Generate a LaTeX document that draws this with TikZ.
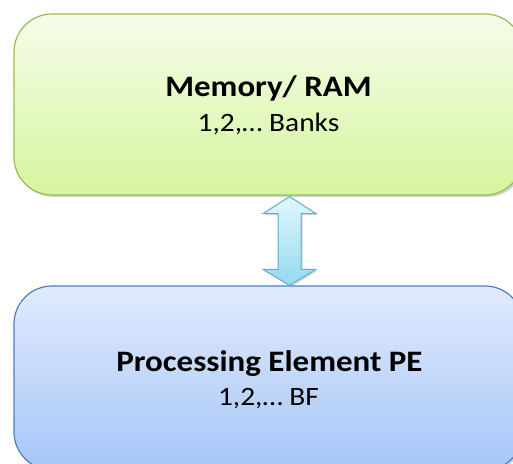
\documentclass[tikz,border=0pt]{standalone}
\usepackage{fontspec}
\setmainfont{Carlito}
\newfontfamily\widefont[FakeStretch=1.11]{Carlito}
\usetikzlibrary{shadows,calc}
\definecolor{memtop}{RGB}{245,253,234}
\definecolor{membot}{RGB}{214,245,158}
\definecolor{memline}{RGB}{155,187,89}
\definecolor{petop}{RGB}{224,234,252}
\definecolor{pebot}{RGB}{166,198,248}
\definecolor{peline}{RGB}{79,129,189}
\definecolor{artop}{RGB}{224,247,253}
\definecolor{arbot}{RGB}{148,218,240}
\definecolor{arline}{RGB}{96,176,206}
\tikzset{
  boxbase/.style={draw, line width=1.2pt, rounded corners=38pt, inner sep=0pt,
    minimum width=509pt, drop shadow={shadow xshift=2pt, shadow yshift=-2pt, opacity=0.35}},
  membox/.style={boxbase, draw=memline, top color=memtop, bottom color=membot, minimum height=181pt},
  pebox/.style={boxbase, draw=peline, top color=petop, bottom color=pebot, minimum height=184pt},
  titletext/.style={anchor=base, inner sep=0pt, font=\widefont\bfseries\fontsize{29.7}{34}\selectfont},
  subtext/.style={anchor=base, inner sep=0pt, font=\widefont\fontsize{26.5}{31}\selectfont},
  blockarrow/.style={draw=arline, line width=1pt, top color=artop, bottom color=arbot,
    drop shadow={shadow xshift=1.5pt, shadow yshift=-1.5pt, opacity=0.3}}
}
\begin{document}
\begin{tikzpicture}[x=1pt,y=1pt]
\useasboundingbox (0,0) rectangle (513,463);
\clip (0,0) rectangle (513,463);
\fill[white] (0,0) rectangle (513,463);
\node[membox] (mem) at (268.5,358.5) {};
\node[pebox] (pe) at (268.5,85) {};
\node[titletext] (memtitle) at (268.5,366) {Memory/ RAM};
\node[subtext] (memsub) at (268.5,331) {1,2,… Banks};
\node[titletext] (petitle) at (269.5,92) {Processing Element PE};
\node[subtext] (pesub) at (268.5,58) {1,2,… BF};
\coordinate (atop) at ($(mem.south)+(21,-1)$);
\coordinate (abot) at ($(pe.north)+(21,0)$);
\draw[blockarrow] (atop) -- ++(26.5,-17) -- ++(-15,0) -- ($(abot)+(11.5,16)$) -- ++(15,0)
  -- (abot) -- ++(-26.5,16) -- ++(15,0) -- ($(atop)+(-11.5,-17)$) -- ++(-15,0) -- cycle;
\end{tikzpicture}
\end{document}
